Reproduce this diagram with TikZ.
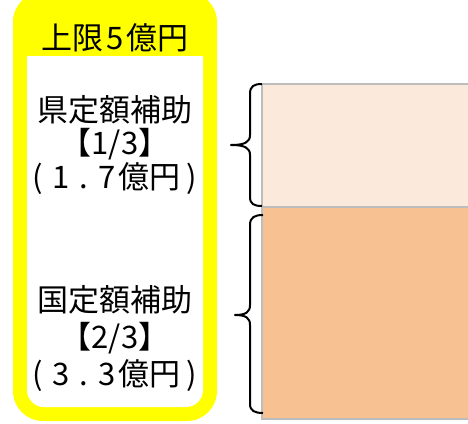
\documentclass[tikz,border=0pt]{standalone}
\usepackage{fontspec}
\setmainfont{Noto Sans CJK JP}
\definecolor{frameyellow}{HTML}{FFFF00}
\definecolor{lightpeach}{HTML}{FBE9DB}
\definecolor{peach}{HTML}{F8C192}
\definecolor{edgegray}{HTML}{BDBDBD}
\newcommand{\hw}[1]{\makebox[23pt]{#1}}
\tikzset{
  label/.style={inner sep=0pt, font=\fontsize{31}{37}\selectfont, text=black},
  part/.style={draw=edgegray, line width=2pt},
  brace/.style={draw=black, line width=2pt, line join=round}
}
\begin{document}
\begin{tikzpicture}[x=1pt,y=-1pt]
\useasboundingbox (0,0) rectangle (468,423);
\clip (0,0) rectangle (468,423);
% yellow frame
\fill[frameyellow, rounded corners=30pt] (13,-8) rectangle (217,421);
\fill[white] (27,56) -- (203,56) [rounded corners=17pt] -- (203,407) -- (27,407) [sharp corners] -- (27,56) -- cycle;
% texts
\node[label] (cap) at (115,38) {上限\hw{5}億円};
\node[label] (k1) at (115,110) {県定額補助};
\node[label] (k2) at (115,144) {【1/3】};
\node[label] (k3) at (115,179) {\hw{(}\hw{1}\hw{.}\hw{7}億円\hw{)}};
\node[label] (g1) at (115,300) {国定額補助};
\node[label] (g2) at (115,338) {【2/3】};
\node[label] (g3) at (115,376) {\hw{(}\hw{3}\hw{.}\hw{3}億円\hw{)}};
% bars
\path[part, fill=lightpeach] (262,84) rectangle (480,207);
\path[part, fill=peach] (262,207) rectangle (480,419);
% braces
\draw[brace] (262,84) .. controls (254,84) and (250,86) .. (250,94) -- (250,135)
  .. controls (250,142) and (245,145) .. (231,145)
  .. controls (245,145) and (250,148) .. (250,155) -- (250,197)
  .. controls (250,204) and (254,206) .. (262,206);
\draw[brace] (263,215) .. controls (255,215) and (250,217) .. (250,225) -- (250,305)
  .. controls (250,312) and (246,315) .. (235,315)
  .. controls (246,315) and (250,318) .. (250,325) -- (250,404)
  .. controls (250,411) and (255,413) .. (263,413);
\end{tikzpicture}
\end{document}
